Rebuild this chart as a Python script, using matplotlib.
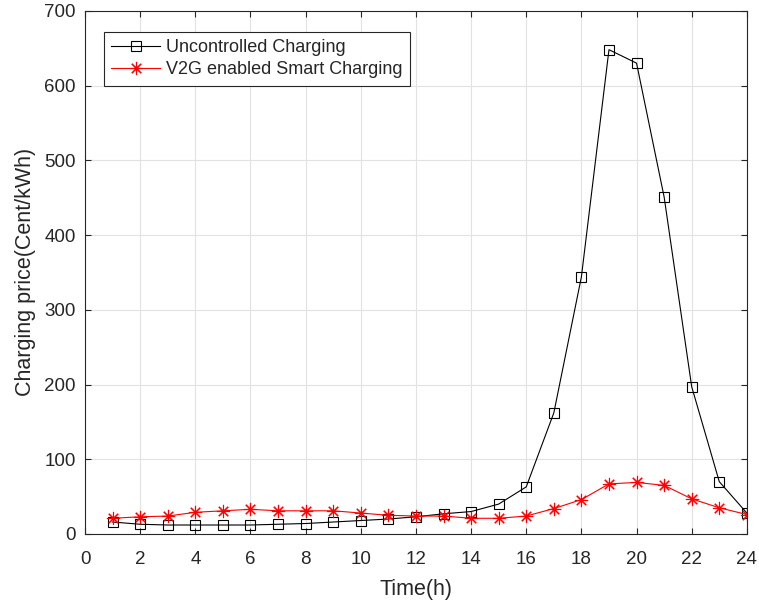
import matplotlib
matplotlib.use("Agg")
import matplotlib.pyplot as plt

hours = list(range(1, 25))
uncontrolled = [16, 13, 12, 12, 12, 12, 13, 14, 16, 18, 20, 23,
                27, 30, 40, 63, 162, 344, 648, 630, 451, 197, 70, 28]
v2g = [21, 23, 24, 29, 31, 33, 31, 31, 31, 28, 25, 24,
       24, 21, 21, 24, 34, 46, 67, 69, 65, 47, 35, 26]

plt.rcParams['font.family'] = ['Liberation Sans', 'DejaVu Sans']

fig = plt.figure(figsize=(7.59, 6.02), dpi=100)
ax = fig.add_axes([0.112, 0.113, 0.872, 0.869])

# black squares, red asterisks like matlab
ax.plot(hours, uncontrolled, color='black', lw=0.8, marker='s', ms=7.5,
        mfc='none', mec='black', mew=0.8, label='Uncontrolled Charging')
ax.plot(hours, v2g, color='red', lw=0.8, marker=(8, 2, 0), ms=9.5,
        mfc='red', mec='red', mew=0.8, label='V2G enabled Smart Charging')

ax.set_xlim(0, 24)
ax.set_ylim(0, 700)
ax.set_xticks(range(0, 25, 2))
ax.set_yticks(range(0, 701, 100))
ax.grid(True, color='#e2e2e2', lw=0.8)
ax.set_axisbelow(True)
ax.tick_params(direction='in', top=True, right=True, labelsize=13.5,
               length=4.5, color='#262626', labelcolor='#262626')
ax.tick_params(axis='x', pad=12)
ax.tick_params(axis='y', pad=6.5)
for s in ax.spines.values():
    s.set_color('#262626')
    s.set_linewidth(0.8)

ax.set_xlabel('Time(h)', fontsize=15.5, color='#262626', labelpad=8)
ax.set_ylabel('Charging price(Cent/kWh)', fontsize=15.5, color='#262626',
              labelpad=6)

leg = ax.legend(loc='upper left', bbox_to_anchor=(0.0287, 0.960),
                borderaxespad=0, fontsize=13, fancybox=False, framealpha=1,
                edgecolor='#262626', borderpad=0.4, handlelength=2.7,
                handletextpad=0.35, labelspacing=0.3)
leg.get_frame().set_linewidth(0.8)
for t in leg.get_texts():
    t.set_color('#262626')

fig.savefig('out.png', dpi=100)
